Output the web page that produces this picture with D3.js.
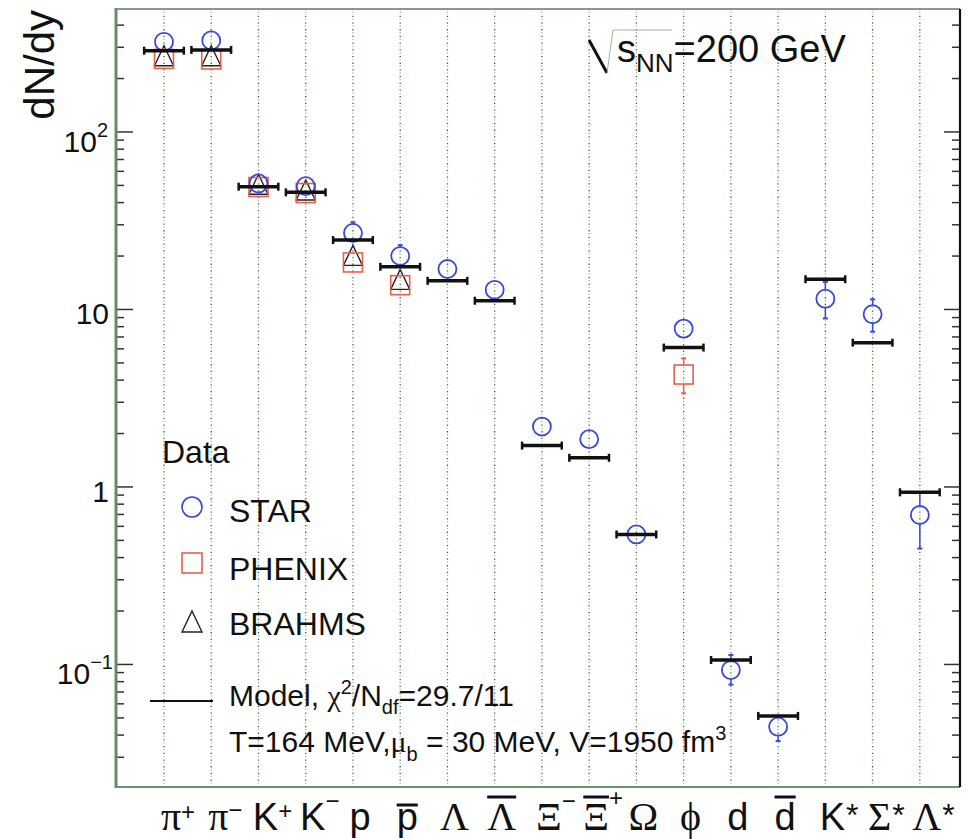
<!DOCTYPE html>
<html>
<head>
<meta charset="utf-8">
<script src="https://cdn.jsdelivr.net/npm/d3@7/dist/d3.min.js"></script>
<style>
  html, body { margin: 0; padding: 0; background: #fff; }
  svg { display: block; }
</style>
</head>
<body>
<svg id="chart" width="970" height="839"></svg>
<script>
// ---------------- data ----------------
const categories = ["π+", "π−", "K+", "K−", "p", "p̄", "Λ", "Λ̄", "Ξ−", "Ξ̄+", "Ω", "ϕ", "d", "d̄", "K*", "Σ*", "Λ*"];
const labelBase = ["π", "π", "K", "K", "p", "p", "Λ", "Λ", "Ξ", "Ξ", "Ω", "ϕ", "d", "d", "K", "Σ", "Λ"];
const labelSup  = ["+", "−", "+", "−", "", "", "", "", "−", "+", "", "", "", "", "*", "*", "*"];
const labelBar  = [false, false, false, false, false, true, false, true, false, true, false, false, false, true, false, false, false];

// STAR (value, lower, upper)
const starVal = [322, 328, 51.3, 49.5, 27.0, 20.0, 16.9, 12.9, 2.19, 1.86, 0.54, 7.8, 0.093, 0.0446, 11.5, 9.4, 0.695];
const starLo  = [302, 308, 47.5, 45.5, 24.5, 18.0, 15.6, 11.9, 2.05, 1.73, 0.51, 7.2, 0.077, 0.037, 8.9, 7.5, 0.45];
const starHi  = [344, 350, 55.5, 54.0, 31.0, 23.0, 18.3, 14.0, 2.33, 2.00, 0.57, 8.4, 0.113, 0.051, 14.3, 11.4, 0.93];

// PHENIX
const phenixVal = [258, 256, 49.0, 45.3, 18.4, 13.7, null, null, null, null, null, 4.3, null, null, null, null, null];
const phenixLo  = [240, 238, 46.0, 42.5, 16.8, 12.5, null, null, null, null, null, 3.37, null, null, null, null, null];
const phenixHi  = [276, 274, 52.0, 48.0, 20.0, 14.9, null, null, null, null, null, 5.3, null, null, null, null, null];

// BRAHMS
const brahmsVal = [264, 264, 49.8, 46.2, 19.8, 14.5, null, null, null, null, null, null, null, null, null, null, null];

// Thermal model
const modelVal = [287, 290, 49.2, 45.7, 24.6, 17.4, 14.5, 11.2, 1.71, 1.46, 0.54, 6.1, 0.106, 0.0513, 14.8, 6.5, 0.933];

// y axis ticks
const yTickVals = [0.1, 1, 10, 100];
const yTickBase = ["10", "1", "10", "10"];
const yTickExp  = ["−1", "", "", "2"];

// ---------------- drawing ----------------
const svg = d3.select("#chart");
const L = 116, R = 960, T = 9, B = 787;

const x = d3.scaleLinear().domain([-1.016, 16.85]).range([L, R]);
const y = d3.scaleLog().domain([0.0204, 493]).range([B, T]);

const STAR_C = "#3848d8", PHENIX_C = "#e8604c", TXT = "#111";
const SANS = "Liberation Sans, Arial, sans-serif";
const SERIF = "Liberation Serif, Times New Roman, serif";

// vertical dotted grid lines
const grid = svg.append("g");
categories.forEach((c, i) => {
  grid.append("line").attr("x1", x(i)).attr("x2", x(i)).attr("y1", T).attr("y2", B)
    .attr("stroke", "#555").attr("stroke-width", 1.3).attr("stroke-dasharray", "1.3,5.4");
  grid.append("line").attr("x1", x(i)).attr("x2", x(i)).attr("y1", T + 3).attr("y2", B)
    .attr("stroke", "#8fd08f").attr("stroke-width", 1.3).attr("stroke-dasharray", "1.3,5.4");
});

// minor & major y ticks
const minor = [];
for (let e = -2; e <= 2; e++) for (let k = 2; k <= 9; k++) {
  const v = k * Math.pow(10, e);
  if (v >= y.domain()[0] && v <= y.domain()[1]) minor.push(v);
}
const ticks = svg.append("g").attr("stroke", "#333").attr("stroke-width", 1.5);
minor.forEach(v => {
  ticks.append("line").attr("x1", L).attr("x2", L + 8).attr("y1", y(v)).attr("y2", y(v));
  ticks.append("line").attr("x1", R).attr("x2", R - 8).attr("y1", y(v)).attr("y2", y(v));
});
yTickVals.forEach(v => {
  ticks.append("line").attr("x1", L).attr("x2", L + 17).attr("y1", y(v)).attr("y2", y(v));
  ticks.append("line").attr("x1", R).attr("x2", R - 16).attr("y1", y(v)).attr("y2", y(v));
});

// frame
svg.append("line").attr("x1", L).attr("x2", R).attr("y1", T).attr("y2", T).attr("stroke", "#8a9a8a").attr("stroke-width", 2);
svg.append("line").attr("x1", L).attr("x2", R).attr("y1", B).attr("y2", B).attr("stroke", "#6f906f").attr("stroke-width", 2.2);
svg.append("line").attr("x1", R).attr("x2", R).attr("y1", T).attr("y2", B).attr("stroke", "#111").attr("stroke-width", 2.2);
svg.append("line").attr("x1", L).attr("x2", L).attr("y1", T - 1).attr("y2", B + 1).attr("stroke", "#6a8a6a").attr("stroke-width", 3);

// y tick labels
yTickVals.forEach((v, i) => {
  const hasExp = yTickExp[i] !== "";
  const t = svg.append("text")
    .attr("font-family", SANS).attr("fill", TXT)
    .attr("font-size", 30).attr("text-anchor", "end")
    .attr("x", hasExp ? (yTickExp[i].length > 1 ? 113 : 108) : 109)
    .attr("y", y(v) + (hasExp ? 20 : 15));
  t.append("tspan").text(yTickBase[i]);
  if (hasExp) t.append("tspan").attr("font-size", 20).attr("dy", -15).text(yTickExp[i]);
});

// y axis title
svg.append("text")
  .attr("transform", "translate(54,10) rotate(-90)")
  .attr("text-anchor", "end")
  .attr("font-family", SANS)
  .attr("font-size", 42).attr("fill", TXT).text("dN/dy");

// x labels
const isGreek = s => /[\u0370-\u03FF]/.test(s);
categories.forEach((c, i) => {
  const base = labelBase[i];
  const fam = isGreek(base) ? SERIF : SANS;
  const fs = isGreek(base) ? 40 : 38;
  const cx = x(i) + 7;
  const tmp = svg.append("text").attr("font-family", fam).attr("font-size", fs).text(base);
  const w = tmp.node().getComputedTextLength();
  tmp.remove();
  const upper = /[A-ZΑ-Ω]/.test(base);
  const t = svg.append("text").attr("x", cx - w / 2).attr("y", 830)
    .attr("font-family", fam).attr("font-size", fs).attr("fill", TXT);
  t.append("tspan").text(base);
  const s = labelSup[i];
  if (s) {
    let dy, sfs = 24;
    if (s === "*") { sfs = 32; dy = -4; }
    else if (labelBar[i]) dy = -24;
    else if (s === "−") dy = upper ? -21 : -12;
    else dy = upper ? -11 : -10;
    t.append("tspan").attr("font-family", SANS)
      .attr("font-size", sfs).attr("dx", s === "*" ? 1 : 0).attr("dy", dy).text(s);
  }
  if (labelBar[i]) {
    const by = base === "p" ? 805 : 797;
    svg.append("line").attr("x1", cx - w / 2).attr("x2", cx + w / 2)
      .attr("y1", by).attr("y2", by).attr("stroke", TXT).attr("stroke-width", 3);
  }
});

// error bar helper
function errBar(g, xi, lo, hi, v, r, color) {
  const X = x(xi);
  [lo, hi].forEach(e => {
    const ye = y(e), yv = y(v);
    if (Math.abs(ye - yv) > r) {
      const ys = ye > yv ? yv + r : yv - r;
      g.append("line").attr("x1", X).attr("x2", X).attr("y1", ys).attr("y2", ye)
        .attr("stroke", color).attr("stroke-width", 1.5);
      g.append("line").attr("x1", X - 2.5).attr("x2", X + 2.5).attr("y1", ye).attr("y2", ye)
        .attr("stroke", color).attr("stroke-width", 2);
    }
  });
}

const marks = svg.append("g");

// BRAHMS triangles
const triPath = (cx, cy, s) => `M${cx},${cy - s * 0.6} L${cx + s * 0.5},${cy + s * 0.45} L${cx - s * 0.5},${cy + s * 0.45} Z`;
brahmsVal.forEach((v, i) => {
  if (v == null) return;
  marks.append("path").attr("d", triPath(x(i), y(v), 19)).attr("fill", "none")
    .attr("stroke", "#222").attr("stroke-width", 1.4);
});

// PHENIX squares
phenixVal.forEach((v, i) => {
  if (v == null) return;
  errBar(marks, i, phenixLo[i], phenixHi[i], v, 9.5, PHENIX_C);
  marks.append("rect").attr("x", x(i) - 9.5).attr("y", y(v) - 9.5).attr("width", 19).attr("height", 19)
    .attr("fill", "none").attr("stroke", PHENIX_C).attr("stroke-width", 1.6);
});

// STAR circles
starVal.forEach((v, i) => {
  if (v == null) return;
  errBar(marks, i, starLo[i], starHi[i], v, 9, STAR_C);
  marks.append("circle").attr("cx", x(i)).attr("cy", y(v)).attr("r", 9)
    .attr("fill", "none").attr("stroke", STAR_C).attr("stroke-width", 1.8);
});

// Model bars
const model = svg.append("g").attr("stroke", "#111");
modelVal.forEach((v, i) => {
  const x1 = x(i - 0.42), x2 = x(i + 0.42), yy = y(v);
  model.append("line").attr("x1", x1).attr("x2", x2).attr("y1", yy).attr("y2", yy).attr("stroke-width", 3.5);
  [x1, x2].forEach(xe => model.append("line").attr("x1", xe).attr("x2", xe)
    .attr("y1", yy - 4).attr("y2", yy + 4).attr("stroke-width", 2.5));
});

// energy label
svg.append("path").attr("d", "M589,40 L607,73").attr("stroke", "#111").attr("stroke-width", 3).attr("fill", "none");
svg.append("path").attr("d", "M607,73 L613,30 L672,30").attr("stroke", "#9ab89a").attr("stroke-width", 1).attr("fill", "none");
const en = svg.append("text").attr("x", 617).attr("y", 62)
  .attr("font-family", SANS).attr("font-size", 38).attr("fill", TXT);
en.append("tspan").text("s");
en.append("tspan").attr("font-size", 26).attr("dy", 10).text("NN");
en.append("tspan").attr("dy", -10).text("=200 GeV");

// legend
const lg = svg.append("g").attr("font-family", SANS).attr("fill", TXT);
lg.append("text").attr("x", 162).attr("y", 463).attr("font-size", 32).text("Data");
lg.append("circle").attr("cx", 192).attr("cy", 507).attr("r", 10).attr("fill", "none")
  .attr("stroke", STAR_C).attr("stroke-width", 1.6);
lg.append("text").attr("x", 229).attr("y", 522).attr("font-size", 32).text("STAR");
lg.append("rect").attr("x", 182).attr("y", 553).attr("width", 20).attr("height", 20).attr("fill", "none")
  .attr("stroke", PHENIX_C).attr("stroke-width", 1.6);
lg.append("text").attr("x", 229).attr("y", 580).attr("font-size", 32).text("PHENIX");
lg.append("path").attr("d", triPath(192, 623, 20)).attr("fill", "none").attr("stroke", "#222").attr("stroke-width", 1.4);
lg.append("text").attr("x", 229).attr("y", 635).attr("font-size", 32).text("BRAHMS");
lg.append("line").attr("x1", 150).attr("x2", 213).attr("y1", 701).attr("y2", 701).attr("stroke", "#111").attr("stroke-width", 2);

const m1 = lg.append("text").attr("x", 229).attr("y", 706).attr("font-size", 30);
m1.append("tspan").text("Model, ");
m1.append("tspan").attr("font-family", SERIF).text("χ");
m1.append("tspan").attr("font-size", 20).attr("dy", -12).text("2");
m1.append("tspan").attr("dy", 12).text("/N");
m1.append("tspan").attr("font-size", 20).attr("dy", 8).text("df");
m1.append("tspan").attr("dy", -8).text("=29.7/11");

const m2 = lg.append("text").attr("x", 229).attr("y", 752).attr("font-size", 30);
m2.append("tspan").text("T=164 MeV,");
m2.append("tspan").attr("font-family", SERIF).text("μ");
m2.append("tspan").attr("font-size", 20).attr("dy", 9).text("b");
m2.append("tspan").attr("dy", -9).text(" = 30 MeV, V=1950 fm");
m2.append("tspan").attr("font-size", 20).attr("dy", -12).text("3");
</script>
</body>
</html>
